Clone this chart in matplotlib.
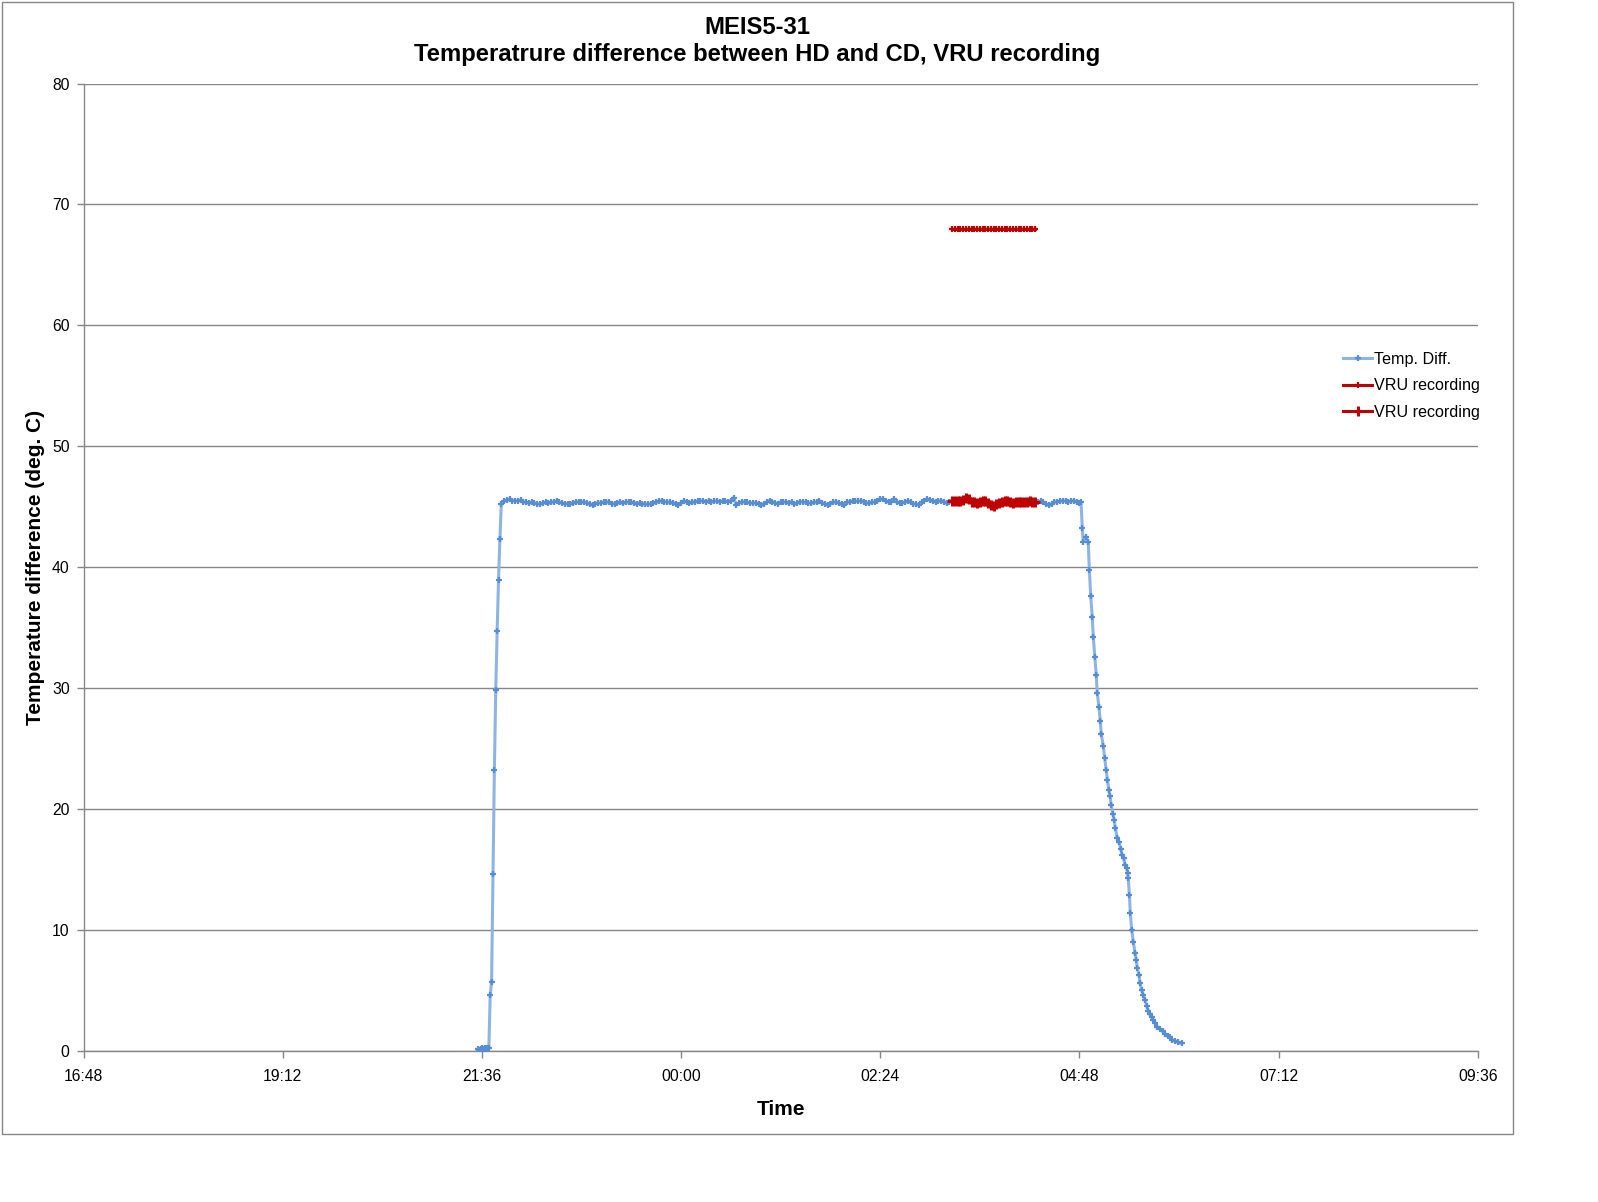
import matplotlib
matplotlib.use("Agg")
import matplotlib.pyplot as plt
from matplotlib.patches import Rectangle

# ---------------- data ----------------
title_line1 = "MEIS5-31"
title_line2 = "Temperatrure difference between HD and CD, VRU recording"
x_label = "Time"
y_label = "Temperature difference (deg. C)"

tick_labels = ["16:48", "19:12", "21:36", "00:00", "02:24", "04:48", "07:12", "09:36"]
y_ticks = [0, 10, 20, 30, 40, 50, 60, 70, 80]

# warm-up (1 min samples)
rise_times = ["21:33", "21:34", "21:35", "21:36", "21:37", "21:38", "21:39", "21:40",
              "21:41", "21:42", "21:43", "21:44", "21:45", "21:46", "21:47", "21:48", "21:49"]
rise_values = [0.1, 0.0, 0.1, 0.2, 0.1, 0.2, 0.1, 0.2,
               0.2, 4.6, 5.7, 14.6, 23.2, 29.8, 34.7, 38.9, 42.3]

# plateau, sampled every 2 minutes starting at 21:50
plateau_start = "21:50"
plateau_step_min = 2
plateau_values = [
    45.2, 45.45, 45.55, 45.6, 45.5, 45.5, 45.45, 45.55, 45.4, 45.35,
    45.3, 45.35, 45.3, 45.25, 45.2, 45.3, 45.35, 45.3, 45.35, 45.4,
    45.45, 45.35, 45.3, 45.25, 45.25, 45.25, 45.3, 45.35, 45.4, 45.4,
    45.35, 45.3, 45.2, 45.15, 45.25, 45.3, 45.3, 45.35, 45.4, 45.35,
    45.25, 45.25, 45.3, 45.35, 45.3, 45.35, 45.4, 45.35, 45.3, 45.25,
    45.3, 45.25, 45.2, 45.2, 45.25, 45.3, 45.35, 45.45, 45.45, 45.4,
    45.4, 45.35, 45.3, 45.25, 45.15, 45.3, 45.45, 45.4, 45.3, 45.35,
    45.4, 45.45, 45.5, 45.45, 45.4, 45.45, 45.4, 45.45, 45.45, 45.4,
    45.45, 45.45, 45.4, 45.5, 45.75, 45.15, 45.3, 45.4, 45.4, 45.35,
    45.3, 45.3, 45.3, 45.25, 45.1, 45.25, 45.4, 45.5, 45.4, 45.3,
    45.25, 45.35, 45.4, 45.35, 45.3, 45.4, 45.2, 45.3, 45.4, 45.4,
    45.35, 45.3, 45.3, 45.35, 45.4, 45.45, 45.3, 45.25, 45.15, 45.25,
    45.35, 45.4, 45.3, 45.2, 45.15, 45.35, 45.4, 45.45, 45.45, 45.45,
    45.5, 45.4, 45.3, 45.3, 45.35, 45.4, 45.45, 45.6, 45.6, 45.45,
    45.4, 45.4, 45.6, 45.35, 45.3, 45.3, 45.4, 45.45, 45.35, 45.25,
    45.2, 45.15, 45.4, 45.5, 45.6, 45.55, 45.45, 45.4, 45.45, 45.5,
    45.4, 45.3, 45.35, 45.45, 45.45, 45.5, 45.45, 45.55, 45.75, 45.6,
    45.4, 45.35, 45.3, 45.35, 45.45, 45.45, 45.3, 45.15, 45.05, 45.25,
    45.3, 45.4, 45.5, 45.45, 45.35, 45.3, 45.4, 45.4, 45.35, 45.4,
    45.4, 45.45, 45.4, 45.4, 45.4, 45.45, 45.35, 45.2, 45.1, 45.25,
    45.4, 45.4, 45.45, 45.5, 45.45, 45.4, 45.45, 45.5, 45.4, 45.3,
]

# cool-down: minutes after 04:48 and values
fall_start = "04:48"
fall_minutes = [1.2, 2.1, 2.8, 4.6, 6.4, 7.2, 8.2, 9.3, 10.1, 11.1, 12.2, 12.9, 14.2,
                15.1, 15.8, 17.3, 18.3, 19.4, 20.2, 21.2, 22.1, 23.1, 24.1, 25.2,
                26.0, 27.4, 28.6, 29.9, 30.8, 32.0, 33.0, 34.2, 34.9, 35.3, 36.2,
                36.8, 37.8, 39.0, 40.2, 41.2, 41.9, 43.1, 43.8, 45.1, 46.2, 47.4,
                48.7, 49.8, 51.0, 52.3, 53.4, 54.6, 56.3, 58.2, 60.2, 61.8, 63.8,
                65.5, 67.1, 69.1, 71.5, 74.0]
fall_values = [45.35, 43.2, 42.1, 42.5, 42.1, 39.8, 37.6, 35.9, 34.2, 32.6, 31.1, 29.6, 28.4,
               27.3, 26.2, 25.2, 24.2, 23.2, 22.4, 21.6, 21.1, 20.3, 19.6, 19.1,
               18.4, 17.6, 17.3, 16.7, 16.2, 15.9, 15.4, 15.1, 14.7, 14.3, 12.9,
               11.4, 10.0, 9.0, 8.1, 7.5, 6.8, 6.3, 5.6, 5.0, 4.6, 4.2,
               3.7, 3.3, 3.0, 2.8, 2.5, 2.3, 2.0, 1.8, 1.6, 1.4, 1.2,
               1.1, 0.9, 0.8, 0.7, 0.6]

# VRU recording window
vru_start = "03:16"
vru_end = "04:16"
vru_level = 68.0

series_names = ["Temp. Diff.", "VRU recording", "VRU recording"]


# ---------------- helpers ----------------
def to_hours(s):
    h, m = map(int, s.split(":"))
    v = h + m / 60.0
    return v + 24 if v < 12 else v


rise_t = [to_hours(s) for s in rise_times]
p0 = to_hours(plateau_start)
plateau_t = [p0 + i * plateau_step_min / 60.0 for i in range(len(plateau_values))]
f0 = to_hours(fall_start)
fall_t = [f0 + m / 60.0 for m in fall_minutes]

temp_t = rise_t + plateau_t + fall_t
temp_v = rise_values + plateau_values + fall_values

v0, v1 = to_hours(vru_start), to_hours(vru_end)
vru_idx = [i for i, t in enumerate(temp_t) if v0 - 1e-6 <= t <= v1 + 1e-6]
vru_t = [temp_t[i] for i in vru_idx]
vru_v = [temp_v[i] for i in vru_idx]
vru_flag = [vru_level for _ in vru_idx]

tick_pos = [to_hours(s) for s in tick_labels]

# ---------------- figure ----------------
plt.rcParams["font.family"] = ["Liberation Sans", "DejaVu Sans"]
W, H = 1598, 1202
fig = plt.figure(figsize=(W / 100, H / 100), dpi=100)
fig.patch.set_facecolor("white")

ax = fig.add_axes([83.6 / W, 1 - 1050.7 / H, (1477.7 - 83.6) / W, (1050.7 - 83.6) / H])

grid_c = "#868686"
blue_line = "#8DB4E2"
blue_mark = "#558ED5"
red = "#C00000"

l1, = ax.plot(temp_t, temp_v, color=blue_line, lw=2.2, marker="+", ms=4.5,
              mec=blue_mark, mew=1.6, zorder=3, label=series_names[0])
l2, = ax.plot(vru_t, vru_flag, color=red, lw=2.2, marker="+", ms=4.5,
              mec=red, mew=1.6, zorder=4, label=series_names[1])
l3, = ax.plot(vru_t, vru_v, color=red, lw=2.6, marker="+", ms=6.5,
              mec=red, mew=2.2, zorder=4, label=series_names[2])

ax.set_xlim(tick_pos[0], tick_pos[-1])
ax.set_ylim(y_ticks[0], y_ticks[-1])
ax.set_xticks(tick_pos)
ax.set_xticklabels(tick_labels)
ax.set_yticks(y_ticks)
ax.set_yticklabels([str(v) for v in y_ticks])

ax.yaxis.grid(True, color=grid_c, lw=1.0)
ax.set_axisbelow(True)
for s in ["top", "right"]:
    ax.spines[s].set_visible(False)
for s in ["left", "bottom"]:
    ax.spines[s].set_color(grid_c)
    ax.spines[s].set_linewidth(1.0)
ax.tick_params(axis="both", direction="out", length=5, width=1, color=grid_c,
               labelsize=11.3, labelcolor="black")
ax.tick_params(axis="y", pad=5)
ax.tick_params(axis="x", pad=8)

ax.set_xlabel(x_label, fontsize=15, fontweight="bold", labelpad=12)
ax.set_ylabel(y_label, fontsize=15, fontweight="bold", labelpad=5)

fig.text(757 / W, 1 - 27.5 / H, title_line1, ha="center", va="center",
         fontsize=17.2, fontweight="bold")
fig.text(757 / W, 1 - 55 / H, title_line2, ha="center", va="center",
         fontsize=17.2, fontweight="bold")

leg = fig.legend(handles=[l1, l2, l3], loc="upper left",
                 bbox_to_anchor=(1343 / W, 1 - 352 / H), frameon=False,
                 fontsize=11.6, handlelength=1.8, handletextpad=0.1,
                 labelspacing=0.7, borderpad=0, borderaxespad=0)
leg.get_lines()[2].set_linewidth(2.2)

fig.patches.append(Rectangle((1.5 / W, 1 - 1134 / H), (1513 - 1.5) / W, (1134 - 1.5) / H,
                             transform=fig.transFigure, fill=False,
                             edgecolor=grid_c, lw=1.0))

fig.savefig("out.png", dpi=100, facecolor="white")
